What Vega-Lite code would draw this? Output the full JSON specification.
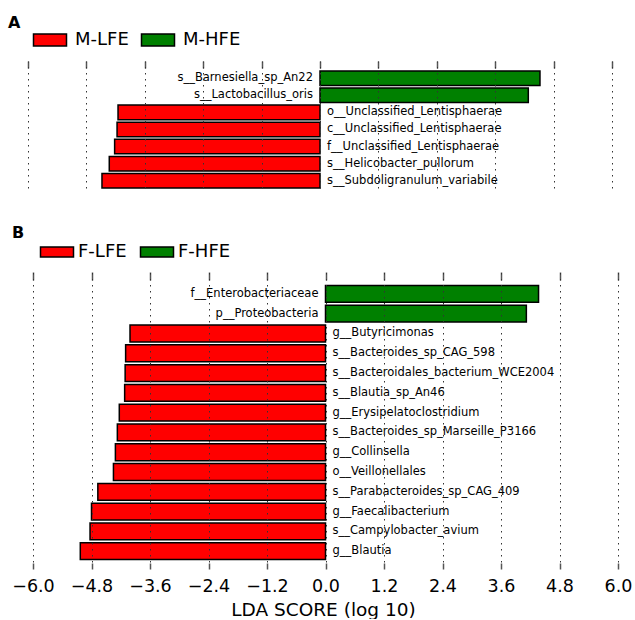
{
  "$schema": "https://vega.github.io/schema/vega-lite/v6.json",
  "padding": {"left": 8, "top": 15, "right": 5, "bottom": 0},
  "config": {"view": {"stroke": null}, "font": "DejaVu Sans"},
  "datasets": {
    "A": [
      {"taxon": "s__Barnesiella_sp_An22", "lda": 4.52, "group": "M-HFE"},
      {"taxon": "s__Lactobacillus_oris", "lda": 4.28, "group": "M-HFE"},
      {"taxon": "o__Unclassified_Lentisphaerae", "lda": -4.15, "group": "M-LFE"},
      {"taxon": "c__Unclassified_Lentisphaerae", "lda": -4.17, "group": "M-LFE"},
      {"taxon": "f__Unclassified_Lentisphaerae", "lda": -4.22, "group": "M-LFE"},
      {"taxon": "s__Helicobacter_pullorum", "lda": -4.33, "group": "M-LFE"},
      {"taxon": "s__Subdoligranulum_variabile", "lda": -4.48, "group": "M-LFE"}
    ],
    "B": [
      {"taxon": "f__Enterobacteriaceae", "lda": 4.37, "group": "F-HFE"},
      {"taxon": "p__Proteobacteria", "lda": 4.12, "group": "F-HFE"},
      {"taxon": "g__Butyricimonas", "lda": -4.01, "group": "F-LFE"},
      {"taxon": "s__Bacteroides_sp_CAG_598", "lda": -4.10, "group": "F-LFE"},
      {"taxon": "s__Bacteroidales_bacterium_WCE2004", "lda": -4.11, "group": "F-LFE"},
      {"taxon": "s__Blautia_sp_An46", "lda": -4.12, "group": "F-LFE"},
      {"taxon": "g__Erysipelatoclostridium", "lda": -4.23, "group": "F-LFE"},
      {"taxon": "s__Bacteroides_sp_Marseille_P3166", "lda": -4.27, "group": "F-LFE"},
      {"taxon": "g__Collinsella", "lda": -4.31, "group": "F-LFE"},
      {"taxon": "o__Veillonellales", "lda": -4.35, "group": "F-LFE"},
      {"taxon": "s__Parabacteroides_sp_CAG_409", "lda": -4.67, "group": "F-LFE"},
      {"taxon": "g__Faecalibacterium", "lda": -4.80, "group": "F-LFE"},
      {"taxon": "s__Campylobacter_avium", "lda": -4.83, "group": "F-LFE"},
      {"taxon": "g__Blautia", "lda": -5.03, "group": "F-LFE"}
    ]
  },
  "vconcat": [
    {
      "width": 584,
      "height": 127,
      "title": {"text": "A", "anchor": "start", "frame": "group", "fontSize": 16, "fontWeight": "bold", "font": "DejaVu Sans", "dx": -20, "offset": -4},
      "data": {"name": "A"},
      "layer": [
        {
          "mark": {"type": "bar", "stroke": "black", "strokeWidth": 1.5},
          "encoding": {
            "y": {"field": "taxon", "type": "nominal", "sort": null, "axis": null,
                  "scale": {"paddingInner": 0.15, "paddingOuter": 0.29, "align": 1}},
            "x": {"field": "lda", "type": "quantitative",
                  "scale": {"domain": [-6, 6], "nice": false, "zero": false},
                  "axis": {"orient": "bottom", "values": [-6, -4.8, -3.6, -2.4, -1.2, 0, 1.2, 2.4, 3.6, 4.8, 6],
                           "labels": false, "ticks": false, "domain": false, "grid": true,
                           "gridDash": [1.5, 4.5], "gridColor": "#333", "gridWidth": 1, "gridOpacity": 1,
                           "title": null, "zindex": 1}},
            "color": {"field": "group", "type": "nominal",
                      "scale": {"domain": ["M-LFE", "M-HFE"], "range": ["#ff0000", "#008000"]},
                      "legend": {"orient": "none", "direction": "horizontal", "legendX": 9, "legendY": -34,
                                 "title": null, "symbolType": "M-1.375,-0.5H1.375V0.5H-1.375Z", "symbolSize": 576,
                                 "symbolStrokeColor": "black", "symbolStrokeWidth": 1.5, "symbolOpacity": 1,
                                 "labelFontSize": 18, "labelFont": "DejaVu Sans", "labelColor": "black",
                                 "labelOffset": 12, "columnPadding": 9}}
          }
        },
        {
          "transform": [{"filter": "datum.lda < 0"}],
          "mark": {"type": "text", "align": "left", "dx": 7, "fontSize": 11.5, "font": "DejaVu Sans", "color": "black"},
          "encoding": {
            "y": {"field": "taxon", "type": "nominal", "sort": null},
            "x": {"datum": 0, "type": "quantitative",
                  "axis": {"orient": "top", "values": [-6, -4.8, -3.6, -2.4, -1.2, 0, 1.2, 2.4, 3.6, 4.8, 6],
                           "labels": false, "grid": false, "domain": false, "ticks": true, "tickSize": -7,
                           "tickColor": "#555", "tickWidth": 1.5, "title": null}},
            "text": {"field": "taxon"}
          }
        },
        {
          "transform": [{"filter": "datum.lda > 0"}],
          "mark": {"type": "text", "align": "right", "dx": -7, "fontSize": 11.5, "font": "DejaVu Sans", "color": "black"},
          "encoding": {
            "y": {"field": "taxon", "type": "nominal", "sort": null},
            "x": {"datum": 0, "type": "quantitative", "axis": null},
            "text": {"field": "taxon"}
          }
        }
      ],
      "resolve": {"axis": {"x": "independent"}}
    },
    {
      "width": 590,
      "height": 290,
      "title": {"text": "B", "anchor": "start", "frame": "group", "fontSize": 16, "fontWeight": "bold", "font": "DejaVu Sans", "dx": -16, "offset": 0},
      "data": {"name": "B"},
      "layer": [
        {
          "mark": {"type": "bar", "stroke": "black", "strokeWidth": 1.5},
          "encoding": {
            "y": {"field": "taxon", "type": "nominal", "sort": null, "axis": null,
                  "scale": {"paddingInner": 0.15, "paddingOuter": 0.4, "align": 0.85}},
            "x": {"field": "lda", "type": "quantitative",
                  "scale": {"domain": [-6.1026, 6], "nice": false, "zero": false},
                  "axis": {"orient": "bottom", "values": [-6, -4.8, -3.6, -2.4, -1.2, 0, 1.2, 2.4, 3.6, 4.8, 6],
                           "format": ".1f", "labelFontSize": 17.5, "labelFont": "DejaVu Sans", "labelColor": "black",
                           "labelFlush": false, "labelOverlap": false,
                           "labelPadding": 8, "ticks": true, "tickSize": 6, "tickColor": "#555", "tickWidth": 1.5,
                           "offset": 1, "domain": false, "grid": true,
                           "gridDash": [1.5, 4.5], "gridColor": "#333", "gridWidth": 1, "gridOpacity": 1,
                           "title": "LDA SCORE (log 10)", "titleFontSize": 18.5, "titleFont": "DejaVu Sans",
                           "titleFontWeight": "normal", "titleColor": "black", "titlePadding": 6, "zindex": 1}},
            "color": {"field": "group", "type": "nominal",
                      "scale": {"domain": ["F-LFE", "F-HFE"], "range": ["#ff0000", "#008000"]},
                      "legend": {"orient": "none", "direction": "horizontal", "legendX": 18, "legendY": -31,
                                 "title": null, "symbolType": "M-1.65,-0.5H1.65V0.5H-1.65Z", "symbolSize": 400,
                                 "symbolStrokeColor": "black", "symbolStrokeWidth": 1.5, "symbolOpacity": 1,
                                 "labelFontSize": 18, "labelFont": "DejaVu Sans", "labelColor": "black",
                                 "labelOffset": 10, "columnPadding": 10}}
          }
        },
        {
          "transform": [{"filter": "datum.lda < 0"}],
          "mark": {"type": "text", "align": "left", "dx": 7, "fontSize": 11.5, "font": "DejaVu Sans", "color": "black"},
          "encoding": {
            "y": {"field": "taxon", "type": "nominal", "sort": null},
            "x": {"datum": 0, "type": "quantitative",
                  "axis": {"orient": "top", "values": [-6, -4.8, -3.6, -2.4, -1.2, 0, 1.2, 2.4, 3.6, 4.8, 6],
                           "labels": false, "grid": false, "domain": false, "ticks": true, "tickSize": -8,
                           "tickColor": "#555", "tickWidth": 1.5, "title": null}},
            "text": {"field": "taxon"}
          }
        },
        {
          "transform": [{"filter": "datum.lda > 0"}],
          "mark": {"type": "text", "align": "right", "dx": -7, "fontSize": 11.5, "font": "DejaVu Sans", "color": "black"},
          "encoding": {
            "y": {"field": "taxon", "type": "nominal", "sort": null},
            "x": {"datum": 0, "type": "quantitative", "axis": null},
            "text": {"field": "taxon"}
          }
        }
      ],
      "resolve": {"axis": {"x": "independent"}}
    }
  ],
  "spacing": 36,
  "resolve": {"scale": {"color": "independent"}}
}
